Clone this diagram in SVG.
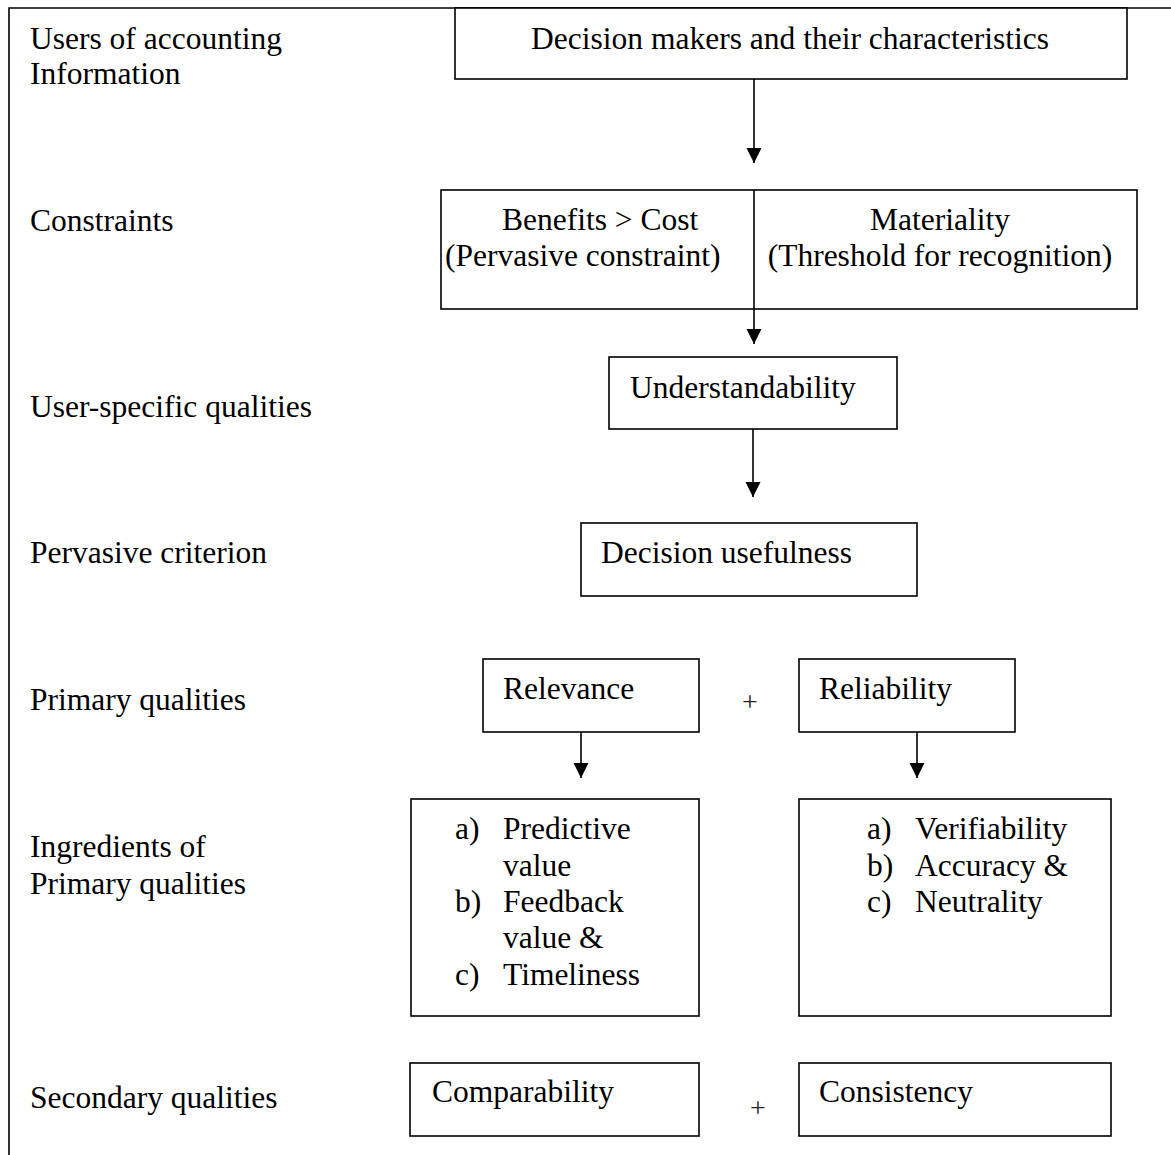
<svg xmlns="http://www.w3.org/2000/svg" width="1171" height="1155" viewBox="0 0 1171 1155">
<style>
text{font-family:"Liberation Serif","Times New Roman",serif;font-size:31.5px;fill:#000}
.box{fill:#fff;stroke:#000;stroke-width:1.6}
.ln{stroke:#000;stroke-width:1.6;fill:none}
text.plus{font-size:28px;fill:#222}
.mid{text-anchor:middle}
</style>
<defs>
<marker id="ah" markerUnits="userSpaceOnUse" markerWidth="16" markerHeight="16" viewBox="0 0 16 16" refX="15" refY="8" orient="auto">
<path d="M0,0.5 L15,8 L0,15.5 Z" fill="#000"/>
</marker>
</defs>
<rect width="1171" height="1155" fill="#fff"/>
<g id="frame">
<path class="ln" d="M9,1155 V8 H1171"/>
</g>
<g id="labels">
<text x="30" y="49">Users of accounting</text>
<text x="30" y="84">Information</text>
<text x="30" y="231">Constraints</text>
<text x="30" y="417">User-specific qualities</text>
<text x="30" y="563">Pervasive criterion</text>
<text x="30" y="710">Primary qualities</text>
<text x="30" y="857">Ingredients of</text>
<text x="30" y="894">Primary qualities</text>
<text x="30" y="1108">Secondary qualities</text>
</g>
<g id="decision-makers">
<rect class="box" x="455" y="8" width="672" height="71"/>
<text class="mid" x="790" y="49">Decision makers and their characteristics</text>
</g>
<g id="constraints">
<rect class="box" x="441" y="190" width="696" height="119"/>
<text x="502" y="230">Benefits &gt; Cost</text>
<text x="445" y="266">(Pervasive constraint)</text>
<text class="mid" x="940" y="230">Materiality</text>
<text class="mid" x="940" y="266">(Threshold for recognition)</text>
</g>
<g id="understandability">
<rect class="box" x="609" y="357" width="288" height="72"/>
<text x="630" y="398">Understandability</text>
</g>
<g id="decision-usefulness">
<rect class="box" x="581" y="523" width="336" height="73"/>
<text x="601" y="563">Decision usefulness</text>
</g>
<g id="relevance">
<rect class="box" x="483" y="659" width="216" height="73"/>
<text x="503" y="699">Relevance</text>
</g>
<g id="reliability">
<rect class="box" x="799" y="659" width="216" height="73"/>
<text x="819" y="699">Reliability</text>
</g>
<g id="relevance-ingredients">
<rect class="box" x="411" y="799" width="288" height="217"/>
<text x="455" y="839">a)</text><text x="503" y="839">Predictive</text>
<text x="503" y="876">value</text>
<text x="455" y="912">b)</text><text x="503" y="912">Feedback</text>
<text x="503" y="948">value &amp;</text>
<text x="455" y="985">c)</text><text x="503" y="985">Timeliness</text>
</g>
<g id="reliability-ingredients">
<rect class="box" x="799" y="799" width="312" height="217"/>
<text x="867" y="839">a)</text><text x="915" y="839">Verifiability</text>
<text x="867" y="876">b)</text><text x="915" y="876">Accuracy &amp;</text>
<text x="867" y="912">c)</text><text x="915" y="912">Neutrality</text>
</g>
<g id="comparability">
<rect class="box" x="410" y="1063" width="289" height="73"/>
<text x="432" y="1102">Comparability</text>
</g>
<g id="consistency">
<rect class="box" x="799" y="1063" width="312" height="73"/>
<text x="819" y="1102">Consistency</text>
</g>
<g id="plus-signs">
<text class="plus mid" x="750" y="711">+</text>
<text class="plus mid" x="758" y="1117">+</text>
</g>
<g id="connectors">
<line class="ln" x1="754" y1="79" x2="754" y2="163" marker-end="url(#ah)"/>
<line class="ln" x1="754" y1="190" x2="754" y2="344" marker-end="url(#ah)"/>
<line class="ln" x1="753" y1="429" x2="753" y2="497" marker-end="url(#ah)"/>
<line class="ln" x1="581" y1="732" x2="581" y2="778" marker-end="url(#ah)"/>
<line class="ln" x1="917" y1="732" x2="917" y2="778" marker-end="url(#ah)"/>
</g>
</svg>
